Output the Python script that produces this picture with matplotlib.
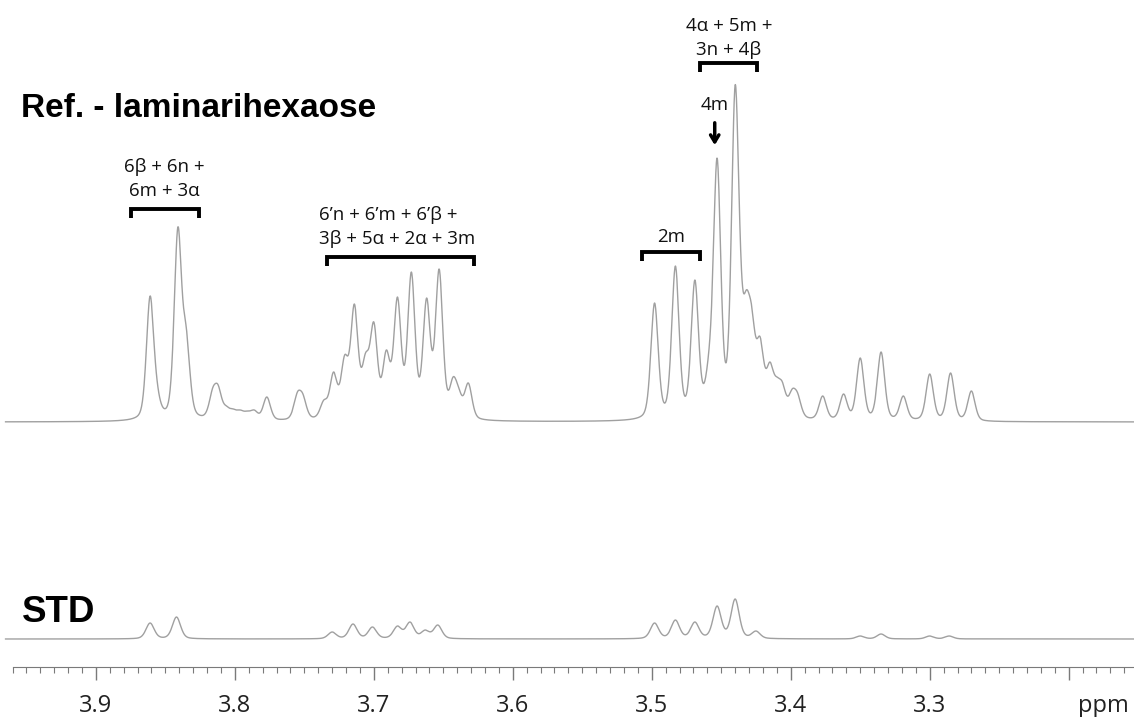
import matplotlib.pyplot as plt
import numpy as np
from matplotlib.ticker import MultipleLocator

# Reference spectrum peak list: chemical shift (ppm) and peak height (a.u.)
ref_shift = [3.861, 3.856, 3.841, 3.835, 3.816, 3.812, 3.806, 3.801, 3.796, 3.791, 3.786,
             3.777, 3.755, 3.751,
             3.736, 3.729, 3.721, 3.714, 3.706, 3.700, 3.691, 3.683, 3.673, 3.662, 3.653,
             3.643, 3.639, 3.632,
             3.498, 3.483, 3.469, 3.459, 3.453, 3.440, 3.4365, 3.432, 3.428, 3.422,
             3.415, 3.410, 3.406, 3.399, 3.395, 3.377, 3.362, 3.350, 3.335, 3.319,
             3.300, 3.285, 3.270]
ref_height = [126, 42, 195, 95, 34, 37, 16, 13, 12, 11, 12,
              25, 30, 28,
              22, 50, 67, 118, 69, 100, 72, 125, 150, 124, 153,
              45, 35, 39,
              119, 156, 142, 70, 264, 337, 192, 132, 115, 85,
              60, 45, 40, 33, 29, 26, 28, 64, 70, 26,
              48, 49, 31]

# STD difference spectrum peak list
std_shift = [3.861, 3.842, 3.730, 3.715, 3.701, 3.683, 3.674, 3.663, 3.654,
             3.498, 3.483, 3.469, 3.453, 3.440, 3.425, 3.350, 3.335, 3.300, 3.286]
std_height = [16, 22, 7, 15, 12, 13, 17, 9, 14,
              16, 19, 17, 33, 40, 8, 3, 5, 3, 3]

tick_values = [3.2, 3.3, 3.4, 3.5, 3.6, 3.7, 3.8, 3.9]
tick_labels = ['', '3.3', '3.4', '3.5', '3.6', '3.7', '3.8', '3.9']


def lineshape(x, x0, w, eta=0.35):
    # pseudo-Voigt, w = half width at half maximum
    d = (x - x0) / w
    return eta / (1.0 + d ** 2) + (1 - eta) * np.exp(-np.log(2) * d ** 2)


def spectrum(x, shifts, heights, w):
    # amplitudes chosen so the summed lineshape hits each listed peak height
    s = np.asarray(shifts)
    h = np.asarray(heights, dtype=float)
    A = lineshape(s[:, None], s[None, :], w)
    amp = np.linalg.solve(A, h)
    return (amp[None, :] * lineshape(x[:, None], s[None, :], w)).sum(axis=1)


ppm = np.linspace(3.153, 3.965, 4000)
ref = spectrum(ppm, ref_shift, ref_height, 0.0031)
std = spectrum(ppm, std_shift, std_height, 0.0035)

fig = plt.figure(figsize=(11.34, 7.17), dpi=100)
ax = fig.add_axes([0, 50 / 717, 1, 667 / 717])
ax.set_xlim(3.969, 3.153)
ax.set_ylim(0, 667)

line_kw = dict(color='#a0a0a0', lw=1.0)
ax.plot(ppm, 245 + ref, **line_kw)
ax.plot(ppm, 28 + std, **line_kw)

# ppm scale
for s in ['left', 'right', 'top']:
    ax.spines[s].set_visible(False)
ax.spines['bottom'].set_color('#7a7a7a')
ax.spines['bottom'].set_bounds(3.96, 3.153)
ax.set_yticks([])
ax.set_xticks(tick_values, tick_labels)
ax.xaxis.set_minor_locator(MultipleLocator(0.01))
ax.tick_params(axis='x', which='major', length=9.5, width=1, color='#7a7a7a',
               pad=10, labelsize=17, labelcolor='#222222')
ax.tick_params(axis='x', which='minor', length=4, width=0.8, color='#7a7a7a')
for lab in ax.get_xticklabels():
    lab.set_family('Open Sans')
fig.text(1103 / 1134, 1 - 706 / 717, 'ppm', ha='center', va='center',
         fontsize=17, color='#222222', family='Open Sans')

# spectrum titles
fig.text(21 / 1134, 1 - 117 / 717, 'Ref. - laminarihexaose', fontsize=24,
         fontweight='bold', family='Liberation Sans', va='baseline')
fig.text(22 / 1134, 1 - 622 / 717, 'STD', fontsize=26.5,
         fontweight='bold', family='Liberation Sans', va='baseline')

# assignment brackets
ann_kw = dict(fontsize=13.5, family='Open Sans', color='#111111', linespacing=1.45)


def bracket(x1, x2, y, leg=9):
    ax.plot([x1, x1, x2, x2], [y - leg, y, y, y - leg], color='black', lw=2.8,
            solid_joinstyle='miter', solid_capstyle='butt')


bracket(3.875, 3.826, 458)
ax.text(3.8505, 488, '6β + 6n +\n6m + 3α', ha='center', va='center', **ann_kw)

bracket(3.734, 3.628, 410)
ax.text(3.7396, 440, '6’n + 6’m + 6’β +\n3β + 5α + 2α + 3m', ha='left',
        va='center', multialignment='left', **ann_kw)

bracket(3.507, 3.465, 415)
ax.text(3.486, 430, '2m', ha='center', va='center', **ann_kw)

bracket(3.465, 3.424, 604)
ax.text(3.4445, 629, '4α + 5m +\n3n + 4β', ha='center', va='center', **ann_kw)

ax.text(3.4547, 562, '4m', ha='center', va='center', **ann_kw)
ax.annotate('', xy=(3.4547, 519), xytext=(3.4547, 547),
            arrowprops=dict(arrowstyle='->,head_length=0.5,head_width=0.3',
                            color='black', lw=2.5))

fig.savefig('out.png', dpi=100)
